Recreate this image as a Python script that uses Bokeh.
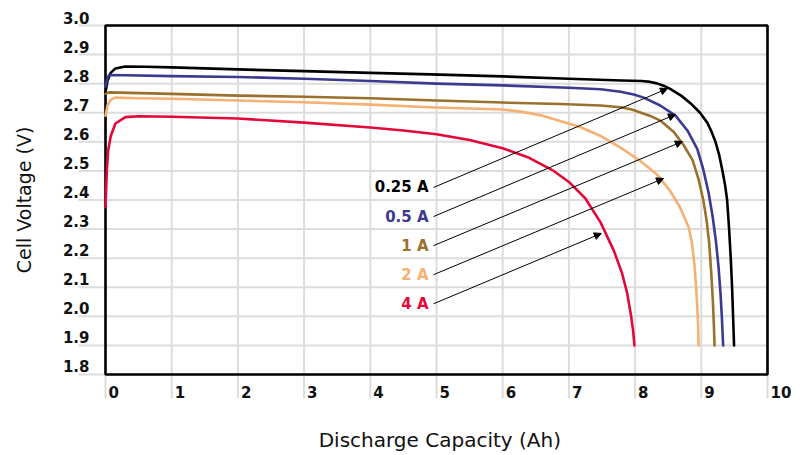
from bokeh.plotting import figure
from bokeh.models import Range1d, ColumnDataSource, Arrow, NormalHead
from bokeh.embed import file_html
from bokeh.resources import INLINE
from bokeh.core.properties import value
import math

# ---------------- data ----------------
x_ticks = [0, 1, 2, 3, 4, 5, 6, 7, 8, 9, 10]
x_tick_labels = ["0", "1", "2", "3", "4", "5", "6", "7", "8", "9", "10"]
y_ticks = [1.8, 1.9, 2.0, 2.1, 2.2, 2.3, 2.4, 2.5, 2.6, 2.7, 2.8, 2.9, 3.0]
y_tick_labels = ["1.8", "1.9", "2.0", "2.1", "2.2", "2.3", "2.4", "2.5", "2.6", "2.7", "2.8", "2.9", "3.0"]

series_names = ["0.25 A", "0.5 A", "1 A", "2 A", "4 A"]

cap_025 = [0, 0.03, 0.08, 0.15, 0.3, 0.6, 1, 2, 3, 4, 4.91, 6, 7, 7.8, 8.1, 8.23, 8.33, 8.43, 8.53, 8.7, 8.84, 8.98, 9.09, 9.15, 9.21, 9.27, 9.32, 9.36, 9.39, 9.42, 9.445, 9.465, 9.48, 9.495]
volt_025 = [2.77, 2.81, 2.838, 2.852, 2.859, 2.858, 2.856, 2.849, 2.843, 2.837, 2.832, 2.825, 2.817, 2.811, 2.809, 2.806, 2.801, 2.793, 2.782, 2.758, 2.732, 2.700, 2.666, 2.637, 2.603, 2.555, 2.500, 2.450, 2.400, 2.300, 2.200, 2.100, 2.000, 1.90]

cap_05 = [0, 0.03, 0.06, 0.3, 1, 2, 3, 4, 5, 6, 7, 7.48, 7.78, 7.98, 8.13, 8.38, 8.61, 8.79, 8.94, 9.03, 9.11, 9.17, 9.22, 9.26, 9.29, 9.31, 9.33]
volt_05 = [2.79, 2.822, 2.830, 2.829, 2.826, 2.823, 2.817, 2.809, 2.800, 2.794, 2.786, 2.781, 2.772, 2.763, 2.752, 2.725, 2.690, 2.639, 2.575, 2.505, 2.425, 2.345, 2.260, 2.170, 2.080, 2.000, 1.90]

cap_1 = [0, 0.05, 1, 2, 3, 4, 5, 6, 6.87, 7.48, 7.78, 7.95, 8.08, 8.23, 8.38, 8.58, 8.73, 8.87, 8.96, 9.03, 9.08, 9.12, 9.15, 9.175, 9.19, 9.20]
volt_1 = [2.765, 2.770, 2.765, 2.759, 2.755, 2.750, 2.742, 2.735, 2.730, 2.725, 2.719, 2.711, 2.701, 2.689, 2.673, 2.635, 2.590, 2.536, 2.470, 2.400, 2.330, 2.250, 2.150, 2.050, 1.970, 1.90]

cap_2 = [0, 0.03, 0.08, 0.15, 0.5, 1, 2, 3, 4, 5, 6, 6.3, 6.6, 6.87, 7.17, 7.47, 7.78, 8.08, 8.33, 8.53, 8.68, 8.81, 8.86, 8.90, 8.93, 8.95, 8.96]
volt_2 = [2.69, 2.725, 2.745, 2.752, 2.750, 2.748, 2.742, 2.736, 2.728, 2.718, 2.711, 2.703, 2.690, 2.672, 2.651, 2.621, 2.580, 2.534, 2.488, 2.431, 2.374, 2.305, 2.250, 2.170, 2.070, 1.980, 1.90]

cap_4 = [0, 0.02, 0.04, 0.08, 0.15, 0.3, 0.5, 1, 2, 3, 4, 4.5, 5, 5.5, 6, 6.4, 6.75, 7.0, 7.25, 7.48, 7.68, 7.80, 7.88, 7.94, 7.97, 7.99]
volt_4 = [2.375, 2.50, 2.57, 2.62, 2.663, 2.685, 2.688, 2.686, 2.680, 2.666, 2.649, 2.639, 2.626, 2.606, 2.578, 2.545, 2.503, 2.462, 2.405, 2.322, 2.225, 2.150, 2.080, 2.000, 1.950, 1.90]

# label anchor (right edge) and arrow targets
label_x = 4.88
label_y = [2.443, 2.343, 2.243, 2.143, 2.043]
arrow_x_start = 4.955
arrow_x_end = [8.49, 8.61, 8.715, 8.43, 7.49]
arrow_y_end = [2.783, 2.694, 2.601, 2.474, 2.285]

colors = ["#000000", "#3b3990", "#9a702c", "#f5b072", "#e2083a"]

# ---------------- figure ----------------
W, H = 800, 455
x_px = 66.2   # pixels per Ah
y_px = 290.8  # pixels per V
x0_px, y_top_px = 105, 25

p = figure(width=W, height=H, output_backend="svg", toolbar_location=None,
           x_range=Range1d(-x0_px / x_px, (W - x0_px) / x_px),
           y_range=Range1d(3.0 - (H - y_top_px) / y_px, 3.0 + y_top_px / y_px),
           min_border=0, title=None)
p.axis.visible = False
p.grid.visible = False
p.outline_line_color = None
p.background_fill_color = "white"
p.border_fill_color = "white"

grid_color = "#dcdcdc"
grid_left = x_ticks[0] - 27 / x_px
grid_bottom = y_ticks[0] - 24 / y_px

# horizontal gridlines
p.segment(x0=[grid_left] * len(y_ticks), x1=[x_ticks[-1]] * len(y_ticks),
          y0=y_ticks, y1=y_ticks, line_color=grid_color, line_width=2)
# vertical gridlines
p.segment(x0=x_ticks, x1=x_ticks, y0=[grid_bottom] * len(x_ticks),
          y1=[y_ticks[-1]] * len(x_ticks), line_color=grid_color, line_width=2)

# frame
p.quad(left=[x_ticks[0]], right=[x_ticks[-1]], bottom=[y_ticks[0]], top=[y_ticks[-1]],
       fill_color=None, line_color="black", line_width=2.6)

# curves
for cx, cy, col in zip([cap_025, cap_05, cap_1, cap_2, cap_4],
                       [volt_025, volt_05, volt_1, volt_2, volt_4], colors):
    p.line(cx, cy, line_color=col, line_width=2.6, line_join="round", line_cap="round")

# arrows
asrc = ColumnDataSource(dict(xs=[arrow_x_start] * 5, ys=label_y, xe=arrow_x_end, ye=arrow_y_end))
p.add_layout(Arrow(x_start="xs", y_start="ys", x_end="xe", y_end="ye", source=asrc,
                   line_color="black", line_width=1,
                   end=NormalHead(size=7, fill_color="black", line_color="black", line_width=1)))

font = value("DejaVu Sans")

# series labels
p.text(x=[label_x] * 5, y=label_y, text=series_names, text_color=colors,
       text_font=font, text_font_style="bold", text_font_size="15px",
       text_align="right", text_baseline="middle")

# y tick labels
p.text(x=[x_ticks[0] - 16 / x_px] * len(y_ticks), y=[v + 8 / y_px for v in y_ticks],
       text=y_tick_labels, text_color="#111111", text_font=font, text_font_style="bold",
       text_font_size="15px", text_align="right", text_baseline="middle")

# x tick labels
p.text(x=[t + 3 / x_px for t in x_ticks], y=[y_ticks[0] - 18 / y_px] * len(x_ticks),
       text=x_tick_labels, text_color="#111111", text_font=font, text_font_style="bold",
       text_font_size="15px", text_align="left", text_baseline="middle")

# axis titles
p.text(x=[(x_ticks[0] + x_ticks[-1]) / 2 + 0.05], y=[y_ticks[0] - 66 / y_px],
       text=["Discharge Capacity (Ah)"], text_color="#111111", text_font=font,
       text_font_size="20px", text_align="center", text_baseline="middle")
p.text(x=[x_ticks[0] - 82 / x_px], y=[(y_ticks[0] + y_ticks[-1]) / 2],
       text=["Cell Voltage (V)"], text_color="#111111", text_font=font,
       text_font_size="19px", text_align="center", text_baseline="middle", angle=math.pi / 2)

open("out.html", "w").write(file_html(p, INLINE))
